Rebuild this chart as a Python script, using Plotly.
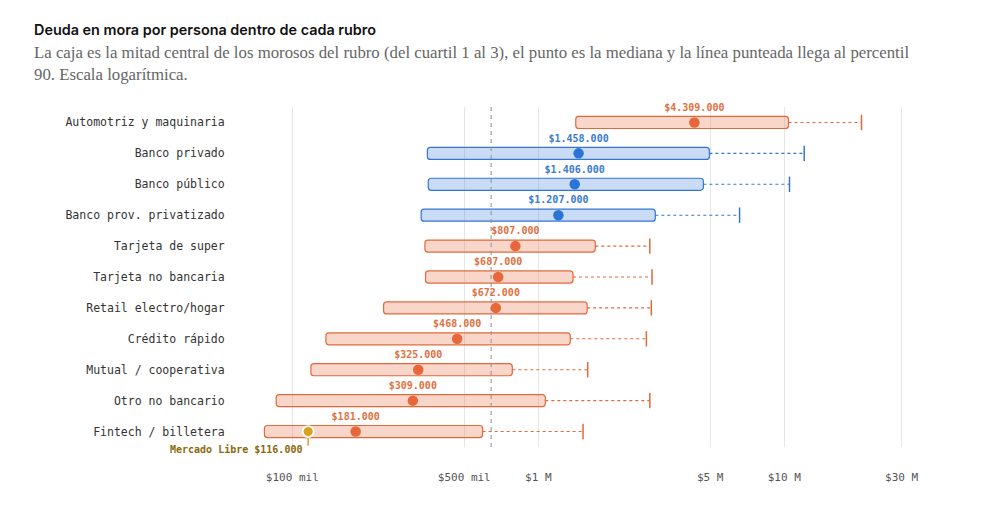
import math
import plotly.graph_objects as go

categories = ["Automotriz y maquinaria", "Banco privado", "Banco público", "Banco prov. privatizado",
              "Tarjeta de super", "Tarjeta no bancaria", "Retail electro/hogar", "Crédito rápido",
              "Mutual / cooperativa", "Otro no bancario", "Fintech / billetera"]
group = ["otro", "banco", "banco", "banco", "otro", "otro", "otro", "otro", "otro", "otro", "otro"]
q1 = [1420000, 354000, 357000, 334000, 346000, 348000, 235000, 137000, 119000, 86000, 77000]
median = [4309000, 1458000, 1406000, 1207000, 807000, 687000, 672000, 468000, 325000, 309000, 181000]
q3 = [10400000, 4960000, 4690000, 2990000, 1705000, 1384000, 1580000, 1349000, 784000, 1068000, 594000]
p90 = [20600000, 12050000, 10500000, 6580000, 2840000, 2900000, 2880000, 2750000, 1588000, 2840000, 1520000]
ml_value = 116000
ml_row = "Fintech / billetera"
ref_value = 643000
tick_vals = [100000, 500000, 1000000, 5000000, 10000000, 30000000]
tick_text = ["$100 mil", "$500 mil", "$1 M", "$5 M", "$10 M", "$30 M"]

STY = {
    "otro": dict(line="#e2693b", fill="rgba(232,104,58,0.27)", dot="#e8673a", text="#e2703e"),
    "banco": dict(line="#3477d0", fill="rgba(45,117,214,0.25)", dot="#2a74d6", text="#3a7bd0"),
}
MONO = "DejaVu Sans Mono"

# plot area in page pixels (page has a small body offset)
OFFX, OFFY = 8, 7
PL, PR, PT, PB = 236 - OFFX, 940 - OFFX, 105.5 - OFFY, 446.5 - OFFY
W, H = 984, 519


def px2paper_x(px):
    return (px - OFFX - PL) / (PR - PL)


def px2paper_y(py):
    return (PB - (py - OFFY)) / (PB - PT)


def fmt(v):
    return "$" + f"{v:,}".replace(",", ".")


fig = go.Figure()
ypos = list(range(len(categories)))

# reference dashed line
fig.add_trace(go.Scatter(x=[ref_value, ref_value], y=[-0.5, 10.5], mode="lines",
                         line=dict(color="#8a8f98", width=1, dash="4px,4px"),
                         hoverinfo="skip", showlegend=False))

for g in ["otro", "banco"]:
    idx = [i for i in ypos if group[i] == g]
    s = STY[g]
    fig.add_trace(go.Bar(
        y=idx, x=[q3[i] - q1[i] for i in idx], base=[q1[i] for i in idx],
        orientation="h", width=0.39,
        marker=dict(color=s["fill"], line=dict(color=s["line"], width=1.2)),
        hoverinfo="skip", showlegend=False))
    wx, wy = [], []
    for i in idx:
        wx += [q3[i], p90[i], None]
        wy += [i, i, None]
    fig.add_trace(go.Scatter(x=wx, y=wy, mode="lines",
                             line=dict(color=s["line"], width=1.1, dash="3px,3px"),
                             hoverinfo="skip", showlegend=False))
    fig.add_trace(go.Scatter(x=[p90[i] for i in idx], y=idx, mode="markers",
                             marker=dict(symbol="line-ns", size=11,
                                         line=dict(color=s["line"], width=1.5)),
                             hoverinfo="skip", showlegend=False))
    fig.add_trace(go.Scatter(x=[median[i] for i in idx], y=idx, mode="markers",
                             marker=dict(color=s["dot"], size=10.5, line=dict(width=0)),
                             hoverinfo="skip", showlegend=False))
    fig.add_trace(go.Scatter(x=[median[i] for i in idx], y=[i - 0.46 for i in idx], mode="text",
                             text=[fmt(median[i]) for i in idx], textposition="middle center",
                             textfont=dict(family=MONO, size=10, color=s["text"], weight="bold"),
                             cliponaxis=False, hoverinfo="skip", showlegend=False))

# Mercado Libre marker
mi = categories.index(ml_row)
fig.add_trace(go.Scatter(x=[ml_value, ml_value], y=[mi + 0.2, mi + 0.46], mode="lines",
                         line=dict(color="#d9a21b", width=1.5), cliponaxis=False,
                         hoverinfo="skip", showlegend=False))
fig.add_trace(go.Scatter(x=[ml_value], y=[mi], mode="markers",
                         marker=dict(color="#d9a21b", size=11, line=dict(color="white", width=1.8)),
                         cliponaxis=False, hoverinfo="skip", showlegend=False))

annotations = [
    dict(text="Mercado Libre " + fmt(ml_value), xref="x", yref="paper",
         x=math.log10(ml_value), y=px2paper_y(449), xanchor="right", yanchor="middle",
         xshift=-4, showarrow=False,
         font=dict(family=MONO, size=10, color="#8a6a0c", weight="bold")),
    dict(text="Deuda en mora por persona dentro de cada rubro", xref="paper", yref="paper",
         x=px2paper_x(32), y=px2paper_y(28), xanchor="left", yanchor="middle",
         showarrow=False, font=dict(family="Inter", size=14.4, color="#111111", weight=600)),
    dict(text="La caja es la mitad central de los morosos del rubro (del cuartil 1 al 3), el punto es la mediana y la línea punteada llega al percentil",
         xref="paper", yref="paper", x=px2paper_x(32), y=px2paper_y(51),
         xanchor="left", yanchor="middle", showarrow=False,
         font=dict(family="Liberation Serif", size=16.8, color="#666666")),
    dict(text="90. Escala logarítmica.",
         xref="paper", yref="paper", x=px2paper_x(32), y=px2paper_y(73),
         xanchor="left", yanchor="middle", showarrow=False,
         font=dict(family="Liberation Serif", size=16.8, color="#666666")),
]

fig.update_layout(
    width=W, height=H,
    margin=dict(l=PL, r=W - PR, t=PT, b=H - PB),
    paper_bgcolor="white", plot_bgcolor="white",
    barmode="overlay", barcornerradius=3,
    showlegend=False,
    xaxis=dict(type="log", range=[4.7711, 7.633], tickvals=tick_vals, ticktext=tick_text,
               showgrid=True, gridcolor="#e6e6e6", gridwidth=1, zeroline=False, showline=False,
               ticks="", ticklabelstandoff=22,
               tickfont=dict(family=MONO, size=11, color="#555555")),
    yaxis=dict(range=[10.5, -0.5], tickvals=ypos, ticktext=categories, showgrid=False,
               zeroline=False, showline=False, ticks="outside", ticklen=8,
               tickcolor="rgba(0,0,0,0)",
               tickfont=dict(family=MONO, size=11.5, color="#333333")),
    annotations=annotations,
)

fig.write_html("out.html")
